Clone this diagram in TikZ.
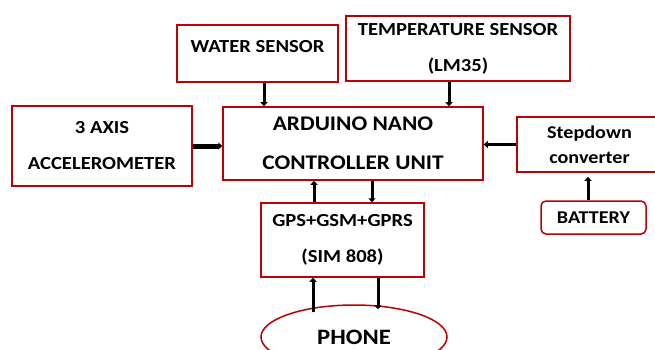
\documentclass[tikz,border=0pt]{standalone}
\usepackage{fontspec}
\setmainfont{Carlito}[FakeStretch=1.12]
\usepackage{tikz}
\usetikzlibrary{arrows.meta,shapes.geometric}
\definecolor{BoxRed}{HTML}{C00000}

\begin{document}
\begin{tikzpicture}[x=1pt,y=-1pt,
    blk/.style={draw=BoxRed,line width=1.5pt,inner sep=0pt,align=center,font=\fontsize{18.4}{36}\selectfont\bfseries},
    link/.style={line width=3pt,-{Triangle[length=4pt,width=7pt]}}]
      \useasboundingbox (0,0) rectangle (655,350);
      \node[blk,minimum width=161,minimum height=57,text height=13pt,text depth=15pt] (water) at (257.5,53.5) {WATER SENSOR};
      \node[blk,minimum width=224,minimum height=65] (temp) at (458,48.5) {TEMPERATURE SENSOR\\(LM35)};
      \node[blk,minimum width=180,minimum height=80] (accel) at (102,146) {3 AXIS\\ACCELEROMETER};
      \node[blk,minimum width=260,minimum height=73,font=\fontsize{20.8}{39}\selectfont\bfseries] (nano) at (353,143.5) {ARDUINO NANO\\CONTROLLER UNIT};
      \node[blk,minimum width=145,minimum height=55,font=\fontsize{18}{25}\selectfont\bfseries] (stepdown) at (589.5,144.5) {Stepdown\\converter};
      \node[blk,minimum width=105,minimum height=33,rounded corners=5pt,font=\fontsize{18}{20}\selectfont\bfseries] (battery) at (593.5,217.5) {BATTERY};
      \node[blk,minimum width=163,minimum height=74] (gsm) at (342.5,240) {GPS+GSM+GPRS\\(SIM 808)};
      \node[blk,ellipse,minimum width=186,minimum height=64,font=\fontsize{22}{24}\selectfont\bfseries] (phone) at (354,337) {PHONE};
      % where the arrows run
      \coordinate (wx) at (264,0);
      \coordinate (tx) at (449,0);
      \coordinate (bx) at (588,0);
      \coordinate (upx) at (314,0);
      \coordinate (dnx) at (372,0);
      \coordinate (pux) at (313,0);
      \coordinate (pdx) at (378,0);
      \draw[link] (water.south -| wx) -- (nano.north -| wx);
      \draw[link] (temp.south -| tx) -- (nano.north -| tx);
      \draw[link,line width=5pt] (accel.east) -- (accel.east -| nano.west);
      \draw[link,line width=3.5pt] (stepdown.west) -- (stepdown.west -| nano.east);
      \draw[link] (battery.north -| bx) -- ([yshift=-4pt]stepdown.south -| bx);
      \draw[link] (gsm.north -| upx) -- (nano.south -| upx);
      \draw[link] (nano.south -| dnx) -- (gsm.north -| dnx);
      \draw[link] ([yshift=-8pt]phone.north -| pux) -- (gsm.south -| pux);
      \draw[link] (gsm.south -| pdx) -- ([yshift=-5pt]phone.north -| pdx);
    \end{tikzpicture}
\end{document}
